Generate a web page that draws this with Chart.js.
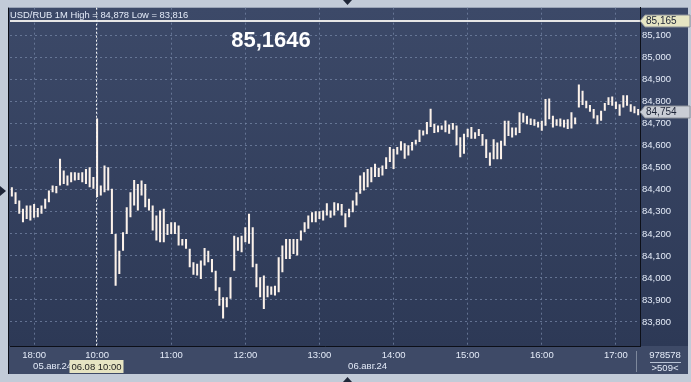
<!DOCTYPE html>
<html>
<head>
<meta charset="utf-8">
<script src="https://cdn.jsdelivr.net/npm/chart.js@4.4.1/dist/chart.umd.min.js"></script>
<style>
  html, body { margin: 0; padding: 0; background: #c2cbd8; }
  #wrap { width: 691px; height: 382px; }
</style>
</head>
<body>
<div id="wrap"><canvas id="chart" width="691" height="382"></canvas></div>
<script>
// ---- data (3-minute high/low bars) ----
const symbolName = 'USD/RUB 1M';
const sessionStarts = ['17:42', '10:00'];
const sessionBars = [23, 147];
const dateLabels = ['05.авг.24', '06.авг.24'];
const hourTicks = ['18:00', '10:00', '11:00', '12:00', '13:00', '14:00', '15:00', '16:00', '17:00'];
const STEP_MIN = 3;

const lows = [
    84.370, 84.336, 84.291, 84.253, 84.268, 84.261, 84.273, 84.276, 84.291, 84.314,
    84.344, 84.389, 84.385, 84.420, 84.427, 84.420, 84.435, 84.442, 84.445, 84.435,
    84.427, 84.412, 84.405, 84.367, 84.374, 84.389, 84.397, 84.200, 83.965, 84.018,
    84.124, 84.200, 84.276, 84.329, 84.306, 84.374, 84.321, 84.306, 84.215, 84.170,
    84.162, 84.162, 84.195, 84.200, 84.200, 84.147, 84.147, 84.132, 84.048, 84.015,
    84.011, 83.995, 84.056, 84.071, 84.026, 83.942, 83.874, 83.816, 83.867, 83.905,
    84.033, 84.124, 84.117, 84.162, 84.155, 84.048, 83.958, 83.912, 83.859, 83.912,
    83.924, 83.920, 83.935, 84.026, 84.086, 84.086, 84.109, 84.102, 84.170, 84.208,
    84.223, 84.253, 84.253, 84.268, 84.261, 84.283, 84.273, 84.283, 84.306, 84.283,
    84.230, 84.276, 84.298, 84.329, 84.382, 84.397, 84.412, 84.435, 84.458, 84.458,
    84.465, 84.495, 84.526, 84.495, 84.561, 84.579, 84.541, 84.556, 84.579, 84.606,
    84.617, 84.647, 84.652, 84.685, 84.658, 84.662, 84.673, 84.662, 84.655, 84.673,
    84.602, 84.548, 84.564, 84.639, 84.632, 84.632, 84.645, 84.600, 84.545, 84.509,
    84.539, 84.539, 84.539, 84.600, 84.645, 84.638, 84.648, 84.658, 84.706, 84.698,
    84.694, 84.691, 84.683, 84.668, 84.691, 84.721, 84.683, 84.691, 84.688, 84.683,
    84.676, 84.679, 84.698, 84.774, 84.785, 84.770, 84.755, 84.724, 84.698, 84.714,
    84.759, 84.785, 84.782, 84.767, 84.736, 84.774, 84.782, 84.755, 84.748, 84.739
];
const highs = [
    84.412, 84.389, 84.352, 84.314, 84.329, 84.329, 84.336, 84.318, 84.329, 84.359,
    84.397, 84.420, 84.418, 84.541, 84.488, 84.465, 84.480, 84.480, 84.478, 84.480,
    84.495, 84.503, 84.458, 84.724, 84.420, 84.511, 84.503, 84.405, 84.200, 84.124,
    84.208, 84.321, 84.389, 84.445, 84.427, 84.442, 84.427, 84.359, 84.329, 84.283,
    84.306, 84.314, 84.245, 84.253, 84.253, 84.238, 84.177, 84.177, 84.132, 84.071,
    84.064, 84.079, 84.136, 84.124, 84.086, 84.033, 83.958, 83.912, 83.912, 84.003,
    84.192, 84.185, 84.192, 84.230, 84.291, 84.230, 84.064, 84.003, 84.011, 83.965,
    83.961, 83.965, 84.094, 84.147, 84.177, 84.177, 84.177, 84.177, 84.215, 84.253,
    84.283, 84.298, 84.303, 84.303, 84.306, 84.339, 84.306, 84.344, 84.339, 84.336,
    84.294, 84.314, 84.352, 84.389, 84.465, 84.480, 84.495, 84.503, 84.518, 84.500,
    84.511, 84.548, 84.594, 84.586, 84.594, 84.621, 84.612, 84.602, 84.617, 84.627,
    84.673, 84.670, 84.708, 84.768, 84.700, 84.692, 84.692, 84.715, 84.697, 84.703,
    84.692, 84.639, 84.655, 84.677, 84.685, 84.662, 84.676, 84.653, 84.630, 84.570,
    84.630, 84.615, 84.623, 84.714, 84.714, 84.683, 84.683, 84.752, 84.748, 84.736,
    84.724, 84.721, 84.709, 84.714, 84.812, 84.815, 84.736, 84.721, 84.724, 84.718,
    84.721, 84.752, 84.729, 84.878, 84.850, 84.805, 84.785, 84.767, 84.739, 84.759,
    84.794, 84.820, 84.824, 84.800, 84.789, 84.830, 84.830, 84.789, 84.779, 84.767
];

const Y_MIN = 83.691;
const Y_MAX = 85.227;
const bidLine = 85.165;
const lastPrice = 84.754;
const bigQuote = '85,1646';
const markerPrice = 84.395;
const cursorIndex = 23;
const cursorText = '06.08 10:00';
const volumeText = '978578';
const countText = '>509<';

const FONT = "'Liberation Sans', Arial, sans-serif";
const TEXT_COLOR = '#e4ebf8';
const GRID_COLOR = 'rgba(118, 134, 166, 0.75)';

function fmt3(v) {
    return v.toFixed(3).replace('.', ',');
}

// category labels, one per 3-minute bar
const categories = [];
sessionStarts.forEach((start, s) => {
    const parts = start.split(':').map(Number);
    for (let k = 0; k < sessionBars[s]; k++) {
        const t = parts[0] * 60 + parts[1] + k * STEP_MIN;
        categories.push(String(Math.floor(t / 60)).padStart(2, '0') + ':' + String(t % 60).padStart(2, '0'));
    }
});

const dayHigh = Math.max(...highs);
const dayLow = Math.min(...lows);

function tagLeft(ctx, x, y, w, h, fill, text) {
    ctx.beginPath();
    ctx.moveTo(x, y);
    ctx.lineTo(x + 5, y - h / 2);
    ctx.lineTo(x + w, y - h / 2);
    ctx.lineTo(x + w, y + h / 2);
    ctx.lineTo(x + 5, y + h / 2);
    ctx.closePath();
    ctx.fillStyle = fill;
    ctx.fill();
    ctx.strokeStyle = '#8a8f98';
    ctx.lineWidth = 1;
    ctx.stroke();
    ctx.fillStyle = '#1c2336';
    ctx.font = '10px ' + FONT;
    ctx.textAlign = 'left';
    ctx.textBaseline = 'middle';
    ctx.fillText(text, x + 6, y + 0.5);
}

function triangle(ctx, pts, color) {
    ctx.beginPath();
    ctx.moveTo(pts[0], pts[1]);
    ctx.lineTo(pts[2], pts[3]);
    ctx.lineTo(pts[4], pts[5]);
    ctx.closePath();
    ctx.fillStyle = color;
    ctx.fill();
}

const terminalLook = {
    id: 'terminalLook',
    beforeDraw(chart) {
        const ctx = chart.ctx;
        const area = chart.chartArea;
        const yAxis = chart.scales.y;
        const xAxis = chart.scales.x;
        ctx.save();
        ctx.fillStyle = '#c2cbd8';
        ctx.fillRect(0, 0, chart.width, chart.height);
        const g = ctx.createLinearGradient(0, area.top, 0, area.bottom);
        g.addColorStop(0, '#3c4968');
        g.addColorStop(1, '#2d3956');
        ctx.fillStyle = g;
        ctx.fillRect(area.left - 2, area.top, yAxis.right - area.left + 2, area.bottom - area.top);
        ctx.fillStyle = '#3e4a67';
        ctx.fillRect(area.left - 2, area.bottom, yAxis.right - area.left + 2, xAxis.bottom - area.bottom);
        ctx.restore();
    },
    afterDraw(chart) {
        const ctx = chart.ctx;
        const area = chart.chartArea;
        const xAxis = chart.scales.x;
        const yAxis = chart.scales.y;
        ctx.save();

        // frame lines
        ctx.strokeStyle = '#0c0f18';
        ctx.lineWidth = 1;
        ctx.beginPath();
        ctx.moveTo(area.left - 1.5, area.top);
        ctx.lineTo(area.left - 1.5, xAxis.bottom);
        ctx.stroke();

        // bid line
        const yb = Math.round(yAxis.getPixelForValue(bidLine));
        ctx.strokeStyle = '#e6e6e6';
        ctx.lineWidth = 2;
        ctx.beginPath();
        ctx.moveTo(area.left, yb);
        ctx.lineTo(area.right, yb);
        ctx.stroke();

        // crosshair
        const xc = Math.round(xAxis.getPixelForValue(cursorIndex)) - 0.5;
        ctx.strokeStyle = '#f2f2f2';
        ctx.lineWidth = 1;
        ctx.setLineDash([2, 2]);
        ctx.beginPath();
        ctx.moveTo(xc, area.top);
        ctx.lineTo(xc, area.bottom);
        ctx.stroke();
        ctx.setLineDash([]);

        // header
        ctx.fillStyle = TEXT_COLOR;
        ctx.font = '9.4px ' + FONT;
        ctx.textAlign = 'left';
        ctx.textBaseline = 'alphabetic';
        ctx.fillText(symbolName + ' High = ' + fmt3(dayHigh) + ' Low = ' + fmt3(dayLow), area.left, 18);

        // big quote
        ctx.fillStyle = '#ffffff';
        ctx.font = 'bold 22px ' + FONT;
        ctx.textAlign = 'center';
        ctx.textBaseline = 'middle';
        ctx.fillText(bigQuote, 271, 41);

        // price tags on the right axis
        tagLeft(ctx, area.right, yb, 50, 12, '#e6e5c3', fmt3(bidLine));
        tagLeft(ctx, area.right, Math.round(yAxis.getPixelForValue(lastPrice)), 50, 12, '#c9cdd5', fmt3(lastPrice));

        // date labels centred on each session
        ctx.fillStyle = TEXT_COLOR;
        ctx.font = '9.5px ' + FONT;
        ctx.textAlign = 'center';
        ctx.textBaseline = 'middle';
        let first = 0;
        const half = (xAxis.getPixelForValue(1) - xAxis.getPixelForValue(0)) / 2;
        sessionBars.forEach((n, s) => {
            const x0 = xAxis.getPixelForValue(first) - half;
            const x1 = xAxis.getPixelForValue(first + n - 1) + half;
            ctx.fillText(dateLabels[s], (x0 + x1) / 2, 366);
            first += n;
        });

        // cursor time box
        ctx.fillStyle = '#e6e4c2';
        ctx.fillRect(xc - 27, 360, 54, 13);
        ctx.fillStyle = '#1c1c1c';
        ctx.fillText(cursorText, xc, 367);

        // bottom-right counter box
        ctx.strokeStyle = '#7d889c';
        ctx.beginPath();
        ctx.moveTo(area.right - 3.5, 351);
        ctx.lineTo(area.right - 3.5, 372);
        ctx.stroke();
        ctx.strokeStyle = '#b8c2d4';
        ctx.beginPath();
        ctx.moveTo(650, 362.5);
        ctx.lineTo(681, 362.5);
        ctx.stroke();
        ctx.fillStyle = TEXT_COLOR;
        ctx.fillText(volumeText, 665, 355);
        ctx.fillText(countText, 665, 368);

        // little frame markers
        triangle(ctx, [343, 0, 352, 0, 347.5, 5], '#1f2638');
        triangle(ctx, [343, 382, 352, 382, 347.5, 377], '#1f2638');
        const ym = yAxis.getPixelForValue(markerPrice);
        triangle(ctx, [0, ym - 5, 0, ym + 5, 6, ym], '#1f2638');

        ctx.restore();
    }
};

const ctx = document.getElementById('chart').getContext('2d');
new Chart(ctx, {
    type: 'bar',
    data: {
        labels: categories,
        datasets: [{
            data: lows.map((lo, i) => [lo, highs[i]]),
            backgroundColor: '#fcf2ea',
            borderWidth: 0,
            barPercentage: 0.55,
            categoryPercentage: 1
        }]
    },
    options: {
        responsive: false,
        animation: false,
        layout: { padding: { left: 10, top: 7, right: 3, bottom: 8 } },
        plugins: {
            legend: { display: false },
            tooltip: { enabled: false }
        },
        scales: {
            x: {
                type: 'category',
                offset: true,
                grid: {
                    offset: false,
                    drawTicks: false,
                    lineWidth: 1,
                    color: (c) => hourTicks.includes(categories[c.index]) ? GRID_COLOR : 'transparent'
                },
                border: { display: true, color: '#0c0f18', width: 1, dash: [2, 3] },
                ticks: {
                    autoSkip: false,
                    maxRotation: 0,
                    minRotation: 0,
                    padding: 4,
                    color: TEXT_COLOR,
                    font: { family: FONT, size: 9.5 },
                    callback: function(value) {
                        const lab = categories[value];
                        return hourTicks.includes(lab) ? lab : '';
                    }
                },
                afterFit: (s) => { s.height = 28; }
            },
            y: {
                position: 'right',
                min: Y_MIN,
                max: Y_MAX,
                grid: {
                    drawTicks: false,
                    lineWidth: 1,
                    color: (c) => {
                        const v = c.tick ? c.tick.value : 0;
                        return (v > 83.75 && v < 85.15) ? GRID_COLOR : 'transparent';
                    }
                },
                border: { display: true, color: '#0c0f18', width: 1, dash: [2, 3] },
                ticks: {
                    stepSize: 0.1,
                    includeBounds: false,
                    padding: 2,
                    color: TEXT_COLOR,
                    font: { family: FONT, size: 9.5 },
                    callback: function(value) {
                        return (value > 83.75 && value < 85.15) ? fmt3(value) : '';
                    }
                },
                afterFit: (s) => { s.width = 48; }
            }
        }
    },
    plugins: [terminalLook]
});
</script>
</body>
</html>
